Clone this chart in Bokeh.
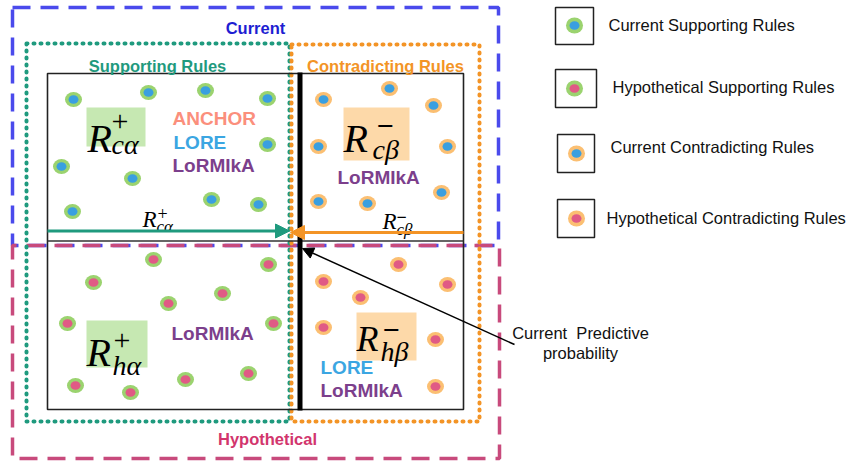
from bokeh.plotting import figure
from bokeh.models import Range1d, Arrow, NormalHead
from bokeh.embed import file_html
from bokeh.resources import INLINE
from bokeh.core.properties import value

# ---------------- data ----------------
# rule dots (diagram pixel coordinates)
cur_sup_x = [73, 148, 205, 267, 267, 61, 132, 211, 258, 72]
cur_sup_y = [99, 92, 90, 98, 144, 166, 178, 199, 204, 211]
cur_con_x = [323, 389, 433, 318, 447, 441, 318, 367]
cur_con_y = [99, 88, 105, 146, 146, 192, 201, 203]
hyp_sup_x = [153, 268, 93, 222, 168, 67, 273, 248, 185, 75, 130]
hyp_sup_y = [259, 264, 282, 293, 303, 323, 323, 373, 379, 385, 392]
hyp_con_x = [398, 323, 447, 360, 323, 435, 435]
hyp_con_y = [264, 281, 284, 297, 327, 339, 386]

legend_labels = ["Current Supporting Rules", "Hypothetical Supporting Rules",
                 "Current Contradicting Rules", "Hypothetical Contradicting Rules"]
legend_box_l = [555, 555, 557, 557]
legend_box_r = [593, 596, 594, 594]
legend_box_t = [7, 69, 134, 199]
legend_box_b = [44, 107, 172, 237]
legend_dot_x = [574, 574, 576, 576]
legend_dot_y = [25, 88, 153, 218]
legend_text_x = [608, 612, 610, 606]
legend_text_y = [24, 86, 146, 217]

region_titles = ["Current", "Supporting Rules", "Contradicting Rules", "Hypothetical"]

methods_text = ["ANCHOR", "LORE", "LoRMIkA", "LoRMIkA", "LoRMIkA", "LORE", "LoRMIkA"]
methods_x = [172, 173, 172, 337, 171, 320, 320]
methods_y = [118, 142, 165, 177, 333, 367, 390]

# ---------------- colours ----------------
GREEN_OUT = "#9bd36f"
ORANGE_OUT = "#fbbf72"
BLUE_IN = "#3a9fe0"
PINK_IN = "#e05a85"
TEAL = "#1f9a7e"
ORANGE = "#f39426"
BLUE_DASH = "#4a4aec"
PINK_DASH = "#c84a7c"
METHOD_COL = {"ANCHOR": "#fb8f7c", "LORE": "#3ba6e2", "LoRMIkA": "#7c3f8c"}

W, H = 850, 463
p = figure(width=W, height=H, x_range=Range1d(0, W), y_range=Range1d(H, 0),
           output_backend="svg", toolbar_location=None, min_border=0,
           x_axis_location=None, y_axis_location=None)
p.grid.visible = False
p.outline_line_color = None
p.background_fill_color = "white"
p.border_fill_color = "white"

SANS = value("Liberation Sans")
SERIF = value("Liberation Serif")

# ---------------- region frames ----------------
p.quad(left=[12], right=[498], top=[7], bottom=[245], fill_color=None,
       line_color=BLUE_DASH, line_width=3.5, line_dash="18 10")
p.quad(left=[12], right=[499], top=[245], bottom=[458], fill_color=None,
       line_color=PINK_DASH, line_width=3.5, line_dash="18 10", line_dash_offset=14)
p.quad(left=[26], right=[289], top=[43], bottom=[421], fill_color=None,
       line_color=TEAL, line_width=4, line_dash="1 6", line_cap="round")
p.quad(left=[291], right=[479], top=[44], bottom=[421], fill_color=None,
       line_color=ORANGE, line_width=4, line_dash="1 6", line_cap="round")

# inner black box
p.quad(left=[47], right=[463], top=[73], bottom=[409], fill_color=None,
       line_color="#222222", line_width=1.6)
p.segment(x0=[47], y0=[240.5], x1=[463], y1=[240.5], line_color="#333333", line_width=1.6)
p.segment(x0=[299.5], y0=[72], x1=[299.5], y1=[410], line_color="black", line_width=5)

# ---------------- label boxes ----------------
p.quad(left=[86, 86], right=[145, 147], top=[107, 320], bottom=[146, 367],
       fill_color="#c6e8b2", line_color=None)
p.quad(left=[343, 356], right=[409, 416], top=[107, 312], bottom=[160, 360],
       fill_color="#fdd9a9", line_color=None)

# ---------------- dots ----------------
def dots(xs, ys, outer, inner, w=17, h=15, wi=10, hi=8.5):
    p.ellipse(x=xs, y=ys, width=w, height=h, fill_color=outer, line_color=None)
    p.ellipse(x=xs, y=ys, width=wi, height=hi, fill_color=inner, line_color=None)

dots(cur_sup_x, cur_sup_y, GREEN_OUT, BLUE_IN)
dots(cur_con_x, cur_con_y, ORANGE_OUT, BLUE_IN)
dots(hyp_sup_x, hyp_sup_y, GREEN_OUT, PINK_IN)
dots(hyp_con_x, hyp_con_y, ORANGE_OUT, PINK_IN)

# ---------------- region titles ----------------
p.text(x=[255, 157, 385, 267], y=[27, 65, 65, 438], text=region_titles,
       text_color=["#1e1ed2", TEAL, ORANGE, "#d2356d"], text_font=SANS,
       text_font_style="bold", text_font_size="16.5px", text_align="center",
       text_baseline="middle")

# ---------------- methods ----------------
p.text(x=methods_x, y=methods_y, text=methods_text,
       text_color=[METHOD_COL[m] for m in methods_text], text_font=SANS,
       text_font_style="bold", text_font_size="19px", text_align="left",
       text_baseline="middle")

# ---------------- R labels ----------------
def rlabel(x, base, sup, sub, size, sup_dx, sup_base, sub_dx, sub_base, sup_size, sub_size):
    p.text(x=[x], y=[base], text=["R"], text_font=SERIF, text_font_style="italic",
           text_font_size=f"{size}px", text_color="black", text_baseline="alphabetic")
    p.text(x=[x + sup_dx], y=[sup_base], text=[sup], text_font=SERIF,
           text_font_style="bold" if sup == "\u2212" else "normal",
           text_font_size=f"{sup_size}px", text_color="black", text_baseline="alphabetic")
    p.text(x=[x + sub_dx], y=[sub_base], text=[sub], text_font=SERIF, text_font_style="italic",
           text_font_size=f"{sub_size}px", text_color="black", text_baseline="alphabetic")

rlabel(87, 138, "+", "cα", 40, 24, 121, 24, 144, 30, 28)
rlabel(343, 138, "\u2212", "cβ", 40, 33, 126, 29, 149, 30, 28)
rlabel(86, 352, "+", "hα", 40, 27, 340, 26, 365, 30, 28)
rlabel(356, 338, "\u2212", "hβ", 36, 26, 330, 24, 351, 30, 28)
rlabel(142, 219, "+", "cα", 23, 15, 213, 14, 226, 18, 17)
rlabel(382, 221, "\u2212", "cβ", 23, 14, 216, 14, 229, 18, 17)

# ---------------- arrows ----------------
p.add_layout(Arrow(end=NormalHead(size=14, fill_color=TEAL, line_color=TEAL),
                   x_start=47, y_start=230.5, x_end=289, y_end=230.5,
                   line_color=TEAL, line_width=3))
p.add_layout(Arrow(end=NormalHead(size=14, fill_color=ORANGE, line_color=ORANGE),
                   x_start=463, y_start=232, x_end=290, y_end=232,
                   line_color=ORANGE, line_width=3))
p.add_layout(Arrow(end=NormalHead(size=11, fill_color="black", line_color="black"),
                   x_start=514, y_start=344, x_end=302, y_end=248,
                   line_color="black", line_width=1.5))

p.text(x=[580, 580], y=[332, 352], text=["Current\u00a0 Predictive", "probability"],
       text_font=SANS, text_font_size="16.5px", text_color="#111111",
       text_align="center", text_baseline="middle")

# ---------------- legend ----------------
p.quad(left=legend_box_l, right=legend_box_r, top=legend_box_t, bottom=legend_box_b,
       fill_color="white", line_color="#222222", line_width=1.5)
leg_outer = [GREEN_OUT, GREEN_OUT, ORANGE_OUT, ORANGE_OUT]
leg_inner = [BLUE_IN, PINK_IN, BLUE_IN, PINK_IN]
p.ellipse(x=legend_dot_x, y=legend_dot_y, width=17, height=16, fill_color=leg_outer, line_color=None)
p.ellipse(x=legend_dot_x, y=legend_dot_y, width=10, height=8.5, fill_color=leg_inner, line_color=None)
p.text(x=legend_text_x, y=legend_text_y, text=legend_labels, text_font=SANS,
       text_font_size="16.5px", text_color="#111111", text_align="left",
       text_baseline="middle")

open("out.html", "w").write(file_html(p, INLINE))
